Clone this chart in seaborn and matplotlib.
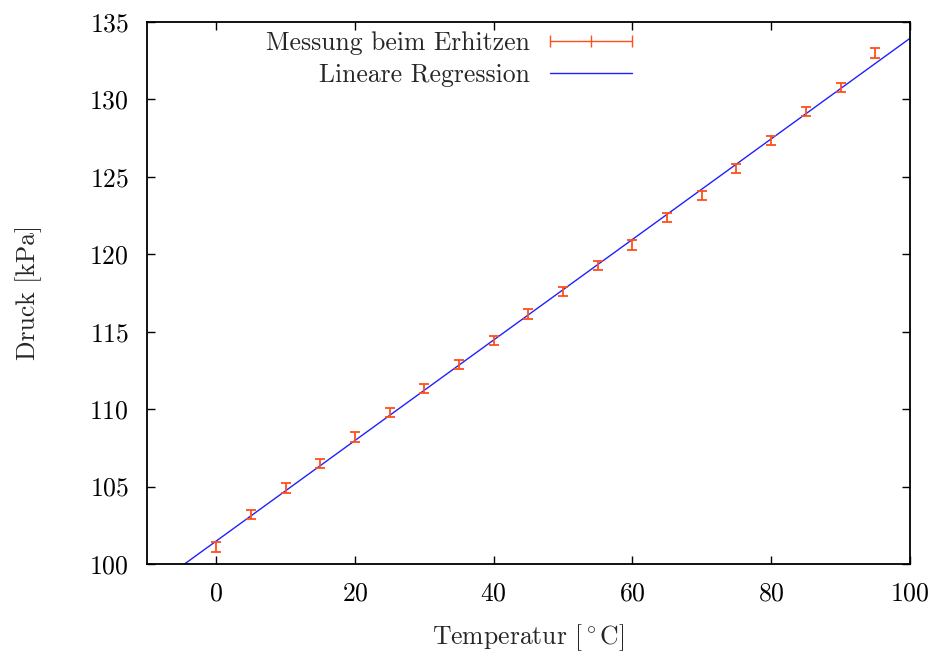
import numpy as np
import pandas as pd
import matplotlib
matplotlib.use("Agg")
import matplotlib.pyplot as plt
from matplotlib.lines import Line2D
import seaborn as sns

temperatur = [0, 5, 10, 15, 20, 25, 30, 35, 40, 45,
              50, 55, 60, 65, 70, 75, 80, 85, 90, 95]
druck = [101.1, 103.2, 104.9, 106.5, 108.2, 109.8, 111.35, 112.9, 114.45, 116.15,
         117.6, 119.25, 120.6, 122.35, 123.8, 125.55, 127.35, 129.2, 130.75, 133.0]
druck_err = [0.3] * 20

df = pd.DataFrame({"T": temperatur, "p": druck, "dp": druck_err})

sns.set_theme(style="ticks")
plt.rcParams["font.family"] = ["cmr10", "DejaVu Serif"]
plt.rcParams["mathtext.fontset"] = "cm"
plt.rcParams["axes.formatter.use_mathtext"] = True

orange = "#ff4f1a"
blue = "#2020ff"
fs = 18.5

fig = plt.figure(figsize=(9.39, 6.55), dpi=100)
ax = fig.add_axes([0.1565, 0.139, 0.8125, 0.8275])

ax.set_xlim(-10, 100)
ax.set_ylim(100, 135)

# Lineare Regression
sns.regplot(data=df, x="T", y="p", ax=ax, scatter=False, ci=None,
            truncate=False, color=blue, line_kws={"lw": 1})

ax.errorbar(df["T"], df["p"], yerr=df["dp"], fmt="none",
            ecolor=orange, elinewidth=1.3, capsize=3.4, capthick=1.3)

ax.set_xlim(-10, 100)
ax.set_ylim(100, 135)
ax.set_xticks(range(0, 101, 20))
ax.set_yticks(range(100, 136, 5))

ax.tick_params(direction="in", top=True, right=True, length=6, width=1,
               labelsize=fs, pad=13, colors="black")
for s in ax.spines.values():
    s.set_linewidth(1.3)
    s.set_color("black")

ax.set_xlabel(r"Temperatur [$^\circ\mathrm{C}$]", fontsize=fs, labelpad=12)
ax.set_ylabel("Druck [kPa]", fontsize=fs, labelpad=34)

handles = [
    Line2D([], [], color=orange, lw=1, marker="|", markersize=9, markeredgewidth=1),
    Line2D([], [], color=blue, lw=1),
]
ax.legend(handles, ["Messung beim Erhitzen", "Lineare Regression"],
          loc="upper right", bbox_to_anchor=(0.676, 1.025), frameon=False,
          markerfirst=False, numpoints=3, handlelength=3.8,
          fontsize=fs, labelspacing=0.3, handletextpad=0.45)
for t in ax.get_legend().get_texts():
    t.set_ha("right")

fig.savefig("out.png", dpi=100)
